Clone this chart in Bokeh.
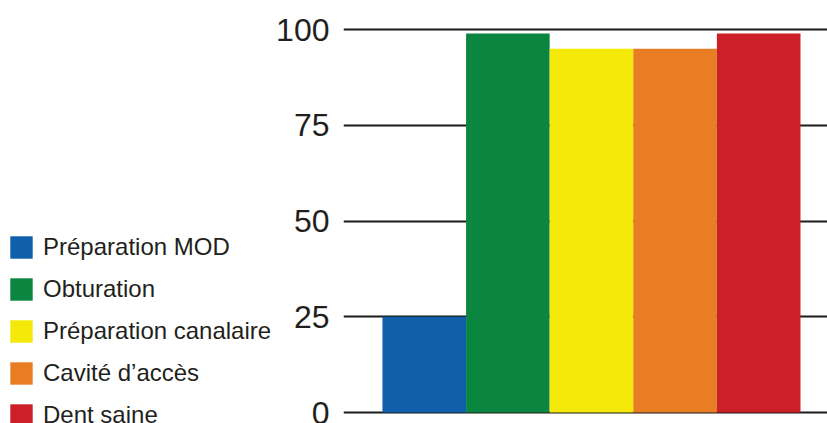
from bokeh.plotting import figure
from bokeh.layouts import row
from bokeh.models import ColumnDataSource, FixedTicker, Legend, LegendItem, Range1d
from bokeh.embed import file_html
from bokeh.resources import INLINE

categories = ["Préparation MOD", "Obturation", "Préparation canalaire", "Cavité d’accès", "Dent saine"]
values = [25, 99, 95, 95, 99]
colors = ["#0f5fab", "#0b8640", "#f5e90a", "#e87d23", "#cc1f27"]
ticks = [0, 25, 50, 75, 100]

FONT = "Liberation Sans"
TEXT = "#231f20"

src = ColumnDataSource(dict(x=list(range(len(categories))), top=values, color=colors, cat=categories))

# chart
p = figure(width=555, height=423, output_backend="svg", toolbar_location=None,
           x_range=Range1d(-0.966, 4.823), y_range=Range1d(-2.87, 105),
           min_border_left=71, min_border_right=0, min_border_top=10, min_border_bottom=0)
p.outline_line_color = None
p.xaxis.visible = False
p.xgrid.visible = False

r = p.vbar(x="x", top="top", width=1.0, bottom=0, color="color", source=src, line_color=None)

p.yaxis.ticker = FixedTicker(ticks=ticks)
p.yaxis.axis_line_color = None
p.yaxis.major_tick_line_color = None
p.yaxis.minor_tick_line_color = None
p.yaxis.major_tick_out = 0
p.yaxis.major_tick_in = 0
p.yaxis.major_label_standoff = 14
p.yaxis.major_label_text_font = FONT
p.yaxis.major_label_text_font_size = "32px"
p.yaxis.major_label_text_color = TEXT

p.ygrid.ticker = FixedTicker(ticks=ticks)
p.ygrid.grid_line_color = "#1a1a1a"
p.ygrid.grid_line_width = 2

# legend panel
lf = figure(width=272, height=423, output_backend="svg", toolbar_location=None,
            x_axis_location=None, y_axis_location=None,
            min_border_left=0, min_border_right=0, min_border_top=0, min_border_bottom=0)
lf.outline_line_color = None
lf.xgrid.visible = False
lf.ygrid.visible = False
lr = lf.vbar(x="x", top="top", width=1.0, bottom=0, color="color", source=src, line_color=None)
lr.visible = False

items = [LegendItem(label=c, renderers=[lr], index=i) for i, c in enumerate(categories)]
legend = Legend(items=items, location=(7, -6), border_line_color=None,
                background_fill_alpha=0, padding=0, margin=0, spacing=14,
                glyph_width=28, glyph_height=28, label_standoff=8, label_height=22,
                inactive_fill_alpha=0,
                label_text_font=FONT, label_text_font_size="24px", label_text_color=TEXT)
lf.add_layout(legend, "center")

open("out.html", "w").write(file_html(row(lf, p), INLINE))
